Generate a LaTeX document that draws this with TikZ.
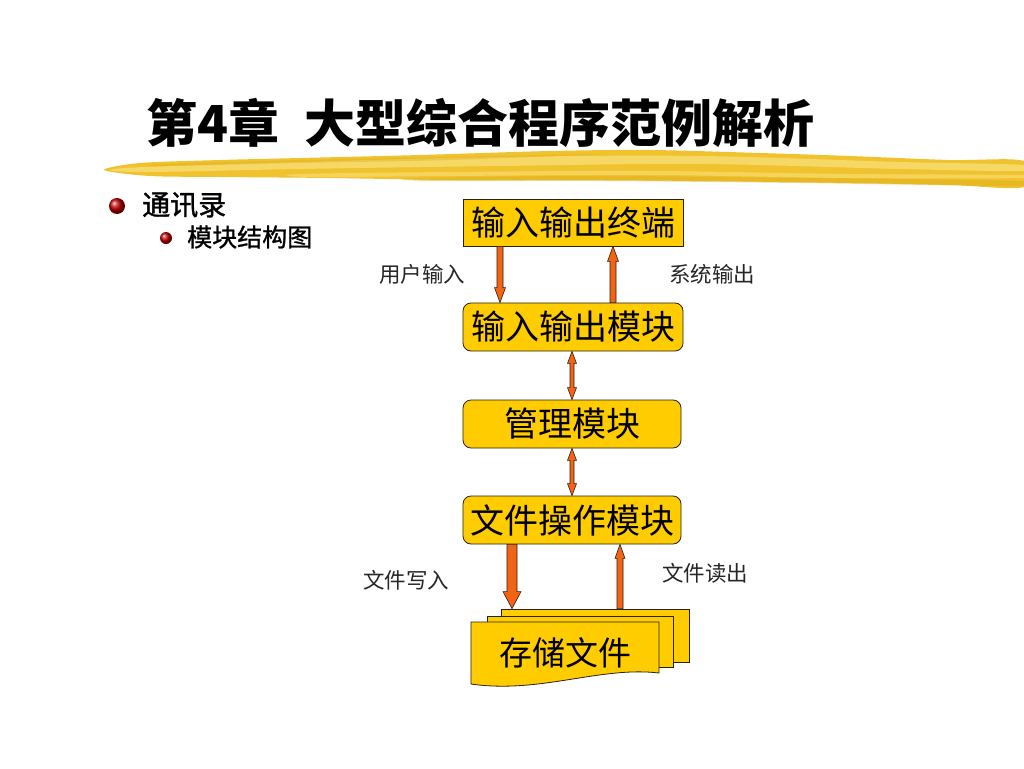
\documentclass[tikz,border=0pt]{standalone}
\usepackage{fontspec}
\newfontfamily\cjk{Noto Sans CJK SC}
\newfontfamily\cjkm[FakeBold=1.1]{Noto Sans CJK SC}
\usetikzlibrary{calc}
\definecolor{boxgold}{HTML}{FFCC00}
\definecolor{arroworange}{HTML}{F26414}
\definecolor{edgecol}{HTML}{2A2010}
\definecolor{brushA}{HTML}{F0C22E}
\definecolor{brushB}{HTML}{F9E07A}
\definecolor{brushC}{HTML}{DDAA18}
\tikzset{
  box/.style={draw=edgecol, line width=0.8pt, fill=boxgold, minimum width=220pt, minimum height=48pt, inner sep=0pt, font=\cjk\fontsize{34}{38}\selectfont},
  rbox/.style={box, rounded corners=8pt},
  arrowstyle/.style={fill=arroworange, draw=edgecol, line width=0.6pt, line join=miter},
  lbl/.style={font=\cjk\fontsize{21.5}{24}\selectfont, text=black!85, inner sep=0pt},
  docshape/.style={fill=boxgold, draw=edgecol, line width=0.8pt},
  brush/.style={fill=brushA, draw=none}
}
% single block arrow from #1 to #2: shaft half width #3, head half width #4, head length #5
\newcommand\blockarrow[5]{%
  \filldraw[arrowstyle] let \p1=(#1), \p2=(#2), \n1={sign(\y1-\y2)} in
  (\x1-#3,\y1) -- (\x1-#3,\y2+\n1*#5) -- (\x1-#4,\y2+\n1*#5) -- (\x1,\y2)
  -- (\x1+#4,\y2+\n1*#5) -- (\x1+#3,\y2+\n1*#5) -- (\x1+#3,\y1) -- cycle;}
\newcommand\dblarrow[5]{%
  \filldraw[arrowstyle] let \p1=(#1), \p2=(#2), \n1={sign(\y1-\y2)} in
  (\x1,\y1) -- (\x1+#4,\y1-\n1*#5) -- (\x1+#3,\y1-\n1*#5) -- (\x1+#3,\y2+\n1*#5)
  -- (\x1+#4,\y2+\n1*#5) -- (\x1,\y2) -- (\x1-#4,\y2+\n1*#5) -- (\x1-#3,\y2+\n1*#5)
  -- (\x1-#3,\y1-\n1*#5) -- (\x1-#4,\y1-\n1*#5) -- cycle;}
\begin{document}
\begin{tikzpicture}[x=1pt,y=-1pt]
\useasboundingbox[fill=white] (0,0) rectangle (1024,768);

% brush stroke under title
\fill[brush] plot[smooth cycle, tension=0.5] coordinates {(104,170) (140,163) (220,160) (300,158) (420,155) (550,151) (650,150) (760,153) (850,156) (950,160) (1024,161) (1024,187) (950,185) (850,183) (700,181) (560,180) (450,180) (330,178) (220,177) (150,176)};
\fill[brushB, opacity=0.75] plot[smooth cycle, tension=0.6] coordinates {(125,168) (300,162) (500,157) (700,156) (900,162) (1024,165) (1024,171) (900,169) (700,164) (500,166) (300,169) (140,172)};
\fill[brushB, opacity=0.6] plot[smooth cycle, tension=0.6] coordinates {(300,174) (450,172) (650,171) (850,174) (1024,175) (1024,178) (850,178) (650,175) (450,176) (310,177)};
\fill[brushC, opacity=0.45] plot[smooth cycle, tension=0.6] coordinates {(420,178) (600,176) (800,178) (1024,181) (1024,186) (800,183) (600,181) (430,181)};
\fill[brushC, opacity=0.35] plot[smooth cycle, tension=0.6] coordinates {(160,164) (300,160) (450,157) (600,154) (450,160) (300,163) (170,166)};

% title
\node[anchor=west, inner sep=0pt, font=\cjk\bfseries\fontsize{51}{56}\selectfont] (title) at (146,123) {第4章\hspace{0.5em}大型综合程序范例解析};

% bullets
\shade[ball color=red!75!black] (117,206) circle (8);
\node[anchor=west, inner sep=0pt, font=\cjkm\fontsize{28}{32}\selectfont] (b1) at (142,205) {通讯录};
\shade[ball color=red!75!black] (166,238) circle (6);
\node[anchor=west, inner sep=0pt, font=\cjkm\fontsize{25}{28}\selectfont] (b2) at (187,237) {模块结构图};

% boxes
\node[box, minimum height=47pt] (t1) at (573,222.5) {输入输出终端};
\node[rbox] (m1) at (573,327) {输入输出模块};
\node[rbox, minimum width=218pt] (m2) at (572,424) {管理模块};
\node[rbox, minimum width=218pt] (m3) at (572,520) {文件操作模块};

% document stack
\node[docshape, rectangle, minimum width=188pt, minimum height=53pt, inner sep=0pt] (d3) at (595.5,635.5) {};
\node[docshape, rectangle, minimum width=186pt, minimum height=51pt, inner sep=0pt] (d2) at (580,641.5) {};
\filldraw[docshape] (471,622) -- (659,622) -- (659,673) .. controls (600,666) and (540,694) .. (471,684) -- cycle;
\node[inner sep=0pt, font=\cjk\fontsize{33}{36}\selectfont] (doc) at (565,653) {存储文件};

% x positions of connectors
\coordinate (xa) at (500,0);
\coordinate (xb) at (613,0);
\coordinate (xc) at (572,0);
\coordinate (xd) at (512,0);
\coordinate (xe) at (620,0);

% arrows
\blockarrow{t1.south -| xa}{m1.north -| xa}{3pt}{5.5pt}{15pt}
\blockarrow{m1.north -| xb}{t1.south -| xb}{3pt}{5.5pt}{15pt}
\dblarrow{m1.south -| xc}{m2.north -| xc}{2pt}{4.5pt}{12pt}
\dblarrow{m2.south -| xc}{m3.north -| xc}{2pt}{4.5pt}{12pt}
\blockarrow{m3.south -| xd}{d3.north -| xd}{5pt}{9pt}{17pt}
\blockarrow{d3.north -| xe}{m3.south -| xe}{3pt}{5pt}{14pt}

% labels
\node[lbl] (l1) at (422,274) {用户输入};
\node[lbl] (l2) at (712,274) {系统输出};
\node[lbl] (l3) at (406,580) {文件写入};
\node[lbl] (l4) at (705,573) {文件读出};
\end{tikzpicture}
\end{document}
